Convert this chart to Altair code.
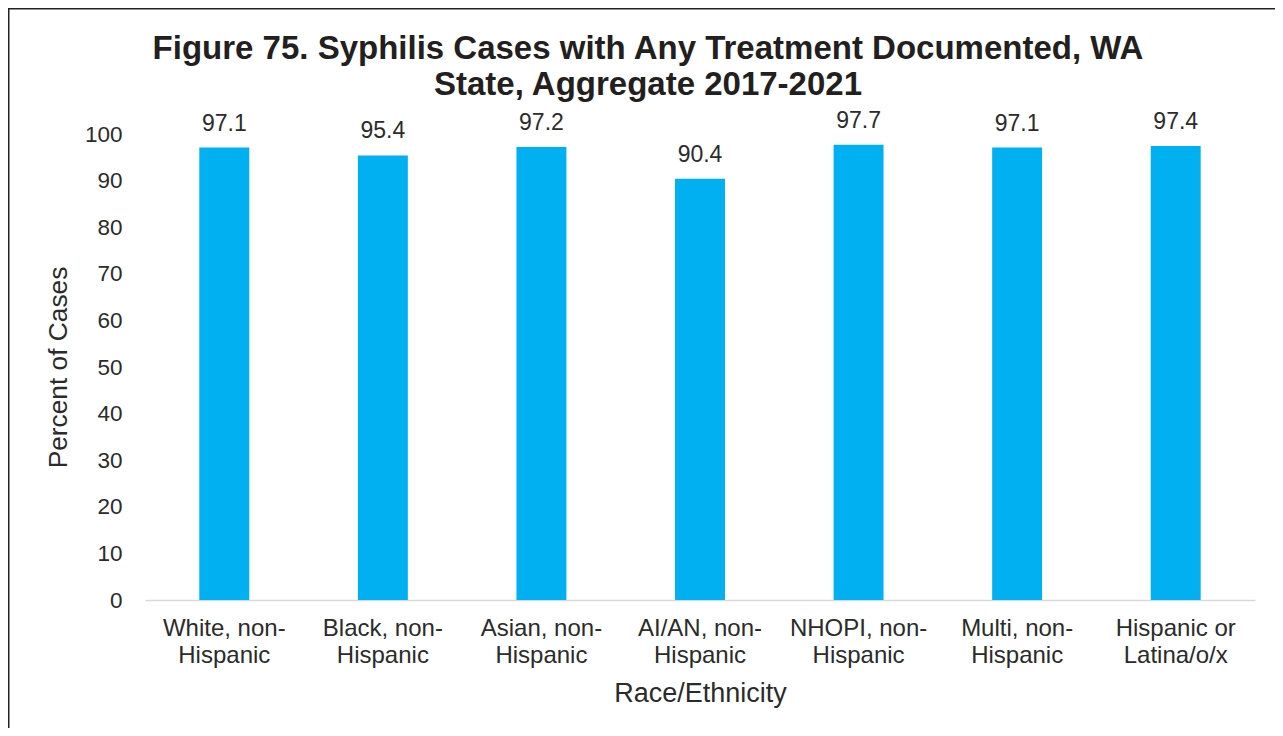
import json
import altair as alt
import pandas as pd

categories = [
    "White, non-Hispanic",
    "Black, non-Hispanic",
    "Asian, non-Hispanic",
    "AI/AN, non-Hispanic",
    "NHOPI, non-Hispanic",
    "Multi, non-Hispanic",
    "Hispanic or Latina/o/x",
]
values = [97.1, 95.4, 97.2, 90.4, 97.7, 97.1, 97.4]
label_lines = [
    ["White, non-", "Hispanic"],
    ["Black, non-", "Hispanic"],
    ["Asian, non-", "Hispanic"],
    ["AI/AN, non-", "Hispanic"],
    ["NHOPI, non-", "Hispanic"],
    ["Multi, non-", "Hispanic"],
    ["Hispanic or", "Latina/o/x"],
]
y_ticks = list(range(0, 101, 10))
title_lines = [
    "Figure 75. Syphilis Cases with Any Treatment Documented, WA",
    "State, Aggregate 2017-2021",
]

df = pd.DataFrame({"category": categories, "value": values})
label_map = json.dumps(dict(zip(categories, label_lines)))

FONT = "Liberation Sans"
TXT = "#2b2b2b"

x_enc = alt.X(
    "category:N",
    sort=categories,
    scale=alt.Scale(paddingInner=0.685, paddingOuter=0.3425),
    axis=alt.Axis(
        title="Race/Ethnicity",
        labelAngle=0,
        labelExpr=label_map + "[datum.label]",
        labelFontSize=24,
        labelLineHeight=27,
        labelColor=TXT,
        labelPadding=16,
        ticks=False,
        tickSize=0,
        domainColor="#d9d9d9",
        domainWidth=1.5,
        titleFontSize=27,
        titleFontWeight="normal",
        titleColor=TXT,
        titlePadding=13,
        titleFont=FONT,
        labelFont=FONT,
    ),
)
y_enc = alt.Y(
    "value:Q",
    scale=alt.Scale(domain=[0, 100]),
    axis=alt.Axis(
        title="Percent of Cases",
        values=y_ticks,
        grid=False,
        domain=False,
        ticks=False,
        tickSize=0,
        labelPadding=23,
        labelFontSize=22.5,
        labelColor=TXT,
        titleFontSize=26.3,
        titleFontWeight="normal",
        titleColor=TXT,
        titlePadding=12,
        titleFont=FONT,
        labelFont=FONT,
    ),
)

bars = alt.Chart(df).mark_bar(color="#00B0F0").encode(x=x_enc, y=y_enc)
labels = alt.Chart(df).mark_text(
    baseline="bottom", dy=-12, fontSize=23, color=TXT, font=FONT
).encode(x=x_enc, y=y_enc, text=alt.Text("value:Q", format=".1f"))

border = alt.Chart(alt.Data(values=[{}])).mark_rect(
    fillOpacity=0, stroke="#222222", strokeWidth=1.5
).encode(
    x=alt.value(-136.25), x2=alt.value(1300), y=alt.value(-125.25), y2=alt.value(700)
)

chart = (
    alt.layer(border, bars, labels)
    .properties(
        width=1110,
        height=466,
        padding={"left": 137, "top": 126, "right": 20, "bottom": 128},
        autosize=alt.AutoSizeParams(type="none"),
        view=alt.ViewBackground(stroke="transparent", strokeWidth=0),
        title=alt.Title(
            title_lines,
            fontSize=33,
            fontWeight="bold",
            color="#231f20",
            lineHeight=36,
            anchor="middle",
            frame="group",
            dx=-52,
            offset=-93.5,
            font=FONT,
        ),
    )
    .configure_view(stroke="transparent", strokeWidth=0, strokeOpacity=0)
    .configure(font=FONT, background="white")
)

chart.save("out.html", embed_options={"renderer": "svg", "actions": False})
